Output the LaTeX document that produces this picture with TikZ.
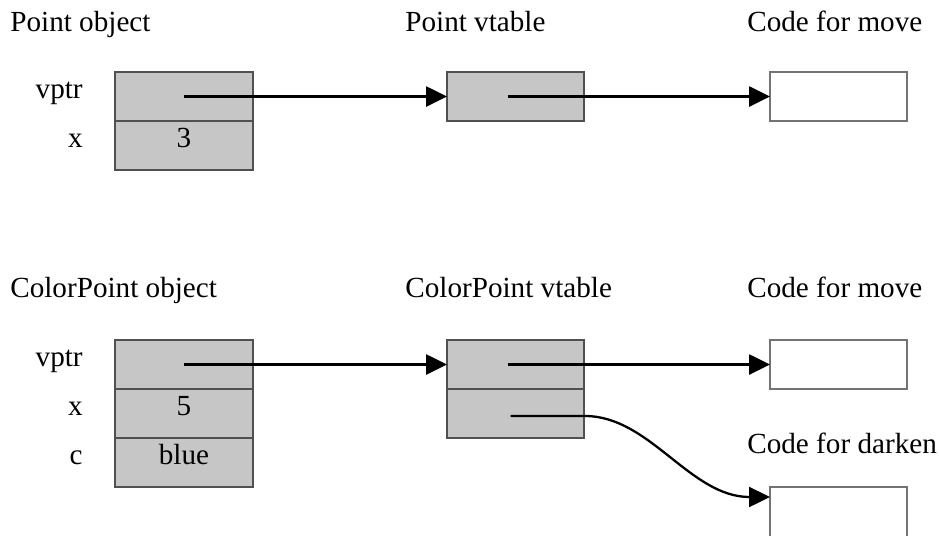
\documentclass[tikz,border=0pt]{standalone}
\usepackage{fontspec}
\setmainfont{Liberation Serif}
\usetikzlibrary{positioning,arrows.meta}

\definecolor{cellgray}{RGB}{198,198,198}
\definecolor{edgegray}{RGB}{80,80,80}

\tikzset{
  cell/.style={draw=edgegray, line width=1.1pt, fill=cellgray, inner sep=0pt, outer sep=0pt,
    minimum width=2.76cm, minimum height=0.98cm, text height=1.6ex, text depth=1ex},
  codebox/.style={cell, fill=white, draw=edgegray!80},
  field/.style={inner sep=0pt, text height=1.6ex, text depth=1ex},
  title/.style={anchor=base west, inner sep=0pt},
  ptr/.style={-{Triangle[length=0.42cm, width=0.4cm]}, line width=1.5pt}
}

\begin{document}
\begin{tikzpicture}[x=0.02cm, y=-0.02cm, font=\fontsize{16.6}{20}\selectfont]
  \useasboundingbox (0,0) rectangle (939,535);

  % Point
  \node[title] at (10,31) {Point object};
  \node[title] at (405,31) {Point vtable};
  \node[title] at (747,31) {Code for move};

  \node[cell] (po1) at (184,96.5) {};
  \node[cell, below=0pt of po1] (po2) {3};
  \node[field, left=0.64cm of po1] {vptr};
  \node[field, left=0.64cm of po2] {x};

  \node[cell, minimum width=2.74cm] (pv1) at (515.5,96.5) {};
  \node[codebox, minimum width=2.74cm] (pmove) at (838.5,96.5) {};

  \draw[ptr] (po1.center) -- (pv1.west);
  \draw[ptr] ([xshift=-0.16cm]pv1.center) -- (pmove.west);

  % ColorPoint
  \node[title] at (10,297) {ColorPoint object};
  \node[title] at (405,297) {ColorPoint vtable};
  \node[title] at (747,297) {Code for move};
  \node[title] at (747,453) {Code for darken};

  \node[cell] (co1) at (184,364.5) {};
  \node[cell, below=0pt of co1] (co2) {5};
  \node[cell, below=0pt of co2] (co3) {blue};
  \node[field, left=0.64cm of co1] {vptr};
  \node[field, left=0.64cm of co2] {x};
  \node[field, left=0.64cm of co3] {c};

  \node[cell, minimum width=2.74cm] (cv1) at (515.5,364.5) {};
  \node[cell, minimum width=2.74cm, below=0pt of cv1] (cv2) {};
  \node[codebox, minimum width=2.74cm] (cmove) at (838.5,364.5) {};
  \node[codebox, minimum width=2.74cm, minimum height=1.04cm] (cdark) at (838.5,513) {};

  \coordinate (bend) at (585,416);
  \coordinate (dstart) at (cv2.center |- bend);
  \draw[ptr] (co1.center) -- (cv1.west);
  \draw[ptr] ([xshift=-0.16cm]cv1.center) -- (cmove.west);
  \draw[ptr, line width=1.3pt] ([xshift=-0.1cm]dstart) -- (bend)
    .. controls (650,416) and (690,497) .. (cdark.west |- 0,497);
\end{tikzpicture}
\end{document}
